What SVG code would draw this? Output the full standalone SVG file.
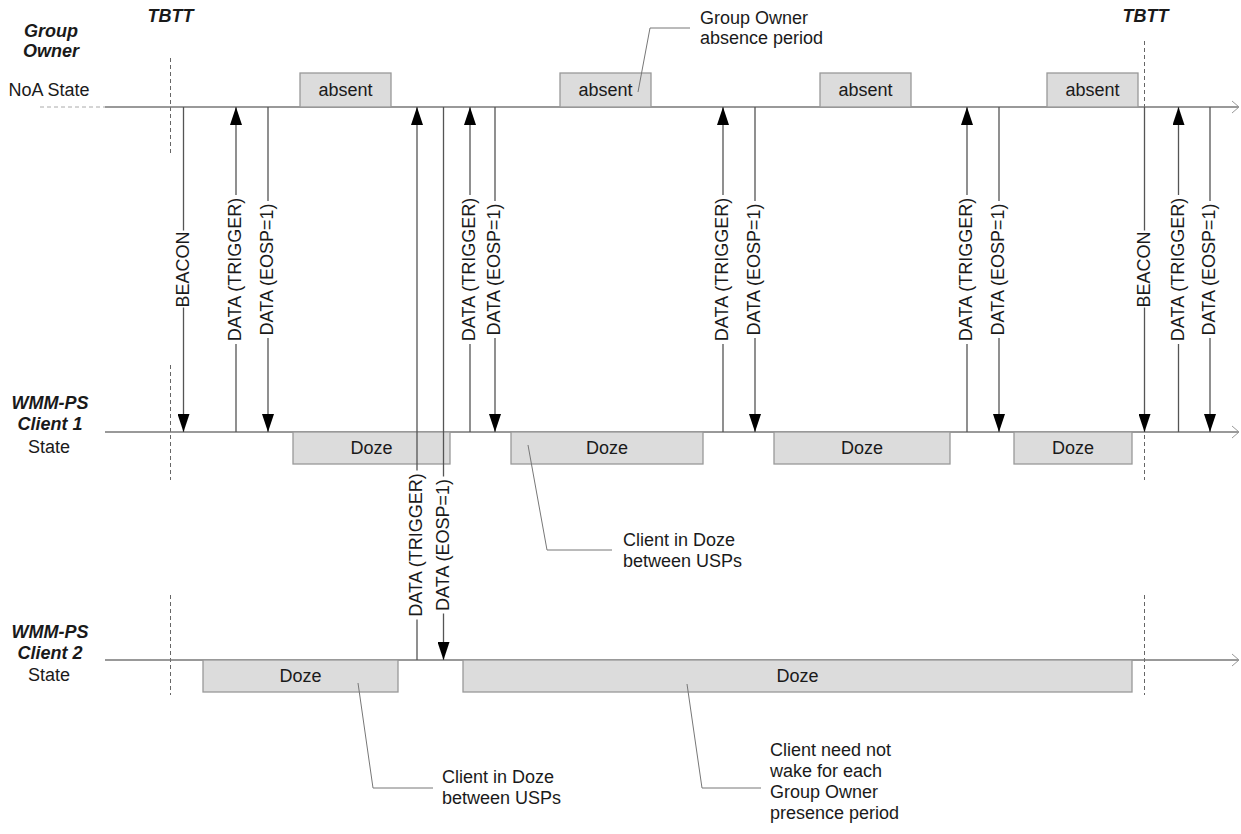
<svg xmlns="http://www.w3.org/2000/svg" width="1241" height="834" viewBox="0 0 1241 834">
<style>
  text { font-family: "Liberation Sans", Arial, sans-serif; font-size: 18px; fill: #1a1a1a; }
  .hdr { font-weight: bold; font-style: italic; }
  .mid { text-anchor: middle; }
  .tl { stroke: #777; stroke-width: 1.3; fill: none; }
  .tbtt { stroke: #666; stroke-width: 1; stroke-dasharray: 4 3; fill: none; }
  .msg { stroke: #555; stroke-width: 1.3; fill: none; }
  .box { fill: #dcdcdc; stroke: #999; stroke-width: 1.3; }
  .lead { stroke: #777; stroke-width: 1; fill: none; }
</style>
<defs>
  <marker id="ah" markerUnits="userSpaceOnUse" markerWidth="18" markerHeight="12" refX="18" refY="6" orient="auto">
    <path d="M0,0 L18,6 L0,12 z" fill="#000"/>
  </marker>
  <marker id="oa" markerUnits="userSpaceOnUse" markerWidth="9" markerHeight="14" refX="8" refY="7" orient="auto">
    <path d="M1,1 L8,7 L1,13" fill="none" stroke="#999" stroke-width="1"/>
  </marker>
</defs>

<!-- headers -->
<g id="headers">
  <text class="hdr mid" x="51" y="37">Group</text>
  <text class="hdr mid" x="51" y="57">Owner</text>
  <text class="mid" x="49" y="96">NoA State</text>
  <text class="hdr mid" x="170.5" y="22">TBTT</text>
  <text class="hdr mid" x="1145.5" y="22">TBTT</text>
  <text class="hdr mid" x="50" y="409">WMM-PS</text>
  <text class="hdr mid" x="50" y="430">Client 1</text>
  <text class="mid" x="49" y="453">State</text>
  <text class="hdr mid" x="50" y="638">WMM-PS</text>
  <text class="hdr mid" x="50" y="659">Client 2</text>
  <text class="mid" x="49" y="681">State</text>
</g>

<!-- TBTT markers -->
<g id="tbtt-lines">
  <path class="tbtt" d="M170.5,58 V155 M170.5,365 V480 M170.5,595 V695"/>
  <path class="tbtt" d="M1144.5,41 V155 M1144.5,365 V480 M1144.5,595 V695"/>
</g>

<!-- timelines -->
<g id="timelines">
  <path d="M40,107 H105" stroke="#aaa" stroke-width="1" stroke-dasharray="4 3" fill="none"/>
  <path class="tl" d="M105,107 H1239" marker-end="url(#oa)"/>
  <path class="tl" d="M105,432 H1239" marker-end="url(#oa)"/>
  <path class="tl" d="M105,660 H1239" marker-end="url(#oa)"/>
</g>

<!-- state boxes -->
<g id="go-absent">
  <g id="absent1"><rect class="box" x="300" y="73" width="91" height="34"/><text class="mid" x="345.5" y="96">absent</text></g>
  <g id="absent2"><rect class="box" x="560" y="73" width="91" height="34"/><text class="mid" x="605.5" y="96">absent</text></g>
  <g id="absent3"><rect class="box" x="820" y="73" width="91" height="34"/><text class="mid" x="865.5" y="96">absent</text></g>
  <g id="absent4"><rect class="box" x="1047" y="73" width="91" height="34"/><text class="mid" x="1092.5" y="96">absent</text></g>
</g>
<g id="c1-doze">
  <g id="c1doze1"><rect class="box" x="293" y="432" width="157" height="32"/><text class="mid" x="371.5" y="454">Doze</text></g>
  <g id="c1doze2"><rect class="box" x="511" y="432" width="192" height="32"/><text class="mid" x="607" y="454">Doze</text></g>
  <g id="c1doze3"><rect class="box" x="774" y="432" width="176" height="32"/><text class="mid" x="862" y="454">Doze</text></g>
  <g id="c1doze4"><rect class="box" x="1014" y="432" width="118" height="32"/><text class="mid" x="1073" y="454">Doze</text></g>
</g>
<g id="c2-doze">
  <g id="c2doze1"><rect class="box" x="203" y="660" width="195" height="32"/><text class="mid" x="300.5" y="682">Doze</text></g>
  <g id="c2doze2"><rect class="box" x="463" y="660" width="669" height="32"/><text class="mid" x="797.5" y="682">Doze</text></g>
</g>

<!-- messages -->
<g id="connectors">
  <!-- BEACON down x=183.5 -->
  <path class="msg" d="M183.5,107 V230.5 M183.5,307.5 V432" marker-end="url(#ah)"/>
  <text class="mid" transform="translate(183.5,269.5) rotate(-90)" y="5">BEACON</text>
  <!-- trigger up 236 -->
  <path class="msg" d="M236,432 V344 M236,195 V107" marker-end="url(#ah)"/>
  <text class="mid" transform="translate(236,269.5) rotate(-90)" y="5">DATA (TRIGGER)</text>
  <!-- eosp down 268 -->
  <path class="msg" d="M268,107 V201 M268,338 V432" marker-end="url(#ah)"/>
  <text class="mid" transform="translate(268,269.5) rotate(-90)" y="5">DATA (EOSP=1)</text>

  <!-- client 2 trigger up 417 -->
  <path class="msg" d="M417,660 V619.5 M417,470.5 V107" marker-end="url(#ah)"/>
  <text class="mid" transform="translate(417,545) rotate(-90)" y="5">DATA (TRIGGER)</text>
  <!-- client 2 eosp down 443.5 -->
  <path class="msg" d="M443.5,107 V476.5 M443.5,613.5 V660" marker-end="url(#ah)"/>
  <text class="mid" transform="translate(443.5,545) rotate(-90)" y="5">DATA (EOSP=1)</text>

  <!-- 470 up -->
  <path class="msg" d="M470,432 V344 M470,195 V107" marker-end="url(#ah)"/>
  <text class="mid" transform="translate(470,269.5) rotate(-90)" y="5">DATA (TRIGGER)</text>
  <!-- 495 down -->
  <path class="msg" d="M495,107 V201 M495,338 V432" marker-end="url(#ah)"/>
  <text class="mid" transform="translate(495,269.5) rotate(-90)" y="5">DATA (EOSP=1)</text>

  <!-- 723 up -->
  <path class="msg" d="M723,432 V344 M723,195 V107" marker-end="url(#ah)"/>
  <text class="mid" transform="translate(723,269.5) rotate(-90)" y="5">DATA (TRIGGER)</text>
  <!-- 755 down -->
  <path class="msg" d="M755,107 V201 M755,338 V432" marker-end="url(#ah)"/>
  <text class="mid" transform="translate(755,269.5) rotate(-90)" y="5">DATA (EOSP=1)</text>

  <!-- 967 up -->
  <path class="msg" d="M967,432 V344 M967,195 V107" marker-end="url(#ah)"/>
  <text class="mid" transform="translate(967,269.5) rotate(-90)" y="5">DATA (TRIGGER)</text>
  <!-- 999 down -->
  <path class="msg" d="M999,107 V201 M999,338 V432" marker-end="url(#ah)"/>
  <text class="mid" transform="translate(999,269.5) rotate(-90)" y="5">DATA (EOSP=1)</text>

  <!-- BEACON 1144.5 -->
  <path class="msg" d="M1144.5,107 V230.5 M1144.5,307.5 V432" marker-end="url(#ah)"/>
  <text class="mid" transform="translate(1144.5,269.5) rotate(-90)" y="5">BEACON</text>
  <!-- 1178.5 up -->
  <path class="msg" d="M1178.5,432 V344 M1178.5,195 V107" marker-end="url(#ah)"/>
  <text class="mid" transform="translate(1178.5,269.5) rotate(-90)" y="5">DATA (TRIGGER)</text>
  <!-- 1210 down -->
  <path class="msg" d="M1210,107 V201 M1210,338 V432" marker-end="url(#ah)"/>
  <text class="mid" transform="translate(1210,269.5) rotate(-90)" y="5">DATA (EOSP=1)</text>
</g>

<!-- callouts -->
<g id="callout-absence">
  <polyline class="lead" points="638,92 650,28 690,28"/>
  <text x="700" y="24">Group Owner</text>
  <text x="700" y="44">absence period</text>
</g>
<g id="callout-c1doze">
  <polyline class="lead" points="528,445 547,550 612,550"/>
  <text x="623" y="546">Client in Doze</text>
  <text x="623" y="567">between USPs</text>
</g>
<g id="callout-c2doze">
  <polyline class="lead" points="358,683 373,788 433,788"/>
  <text x="442" y="783">Client in Doze</text>
  <text x="442" y="804">between USPs</text>
</g>
<g id="callout-nowake">
  <polyline class="lead" points="687,684 702,788 761,788"/>
  <text x="770" y="756">Client need not</text>
  <text x="770" y="777">wake for each</text>
  <text x="770" y="798">Group Owner</text>
  <text x="770" y="819">presence period</text>
</g>
</svg>
